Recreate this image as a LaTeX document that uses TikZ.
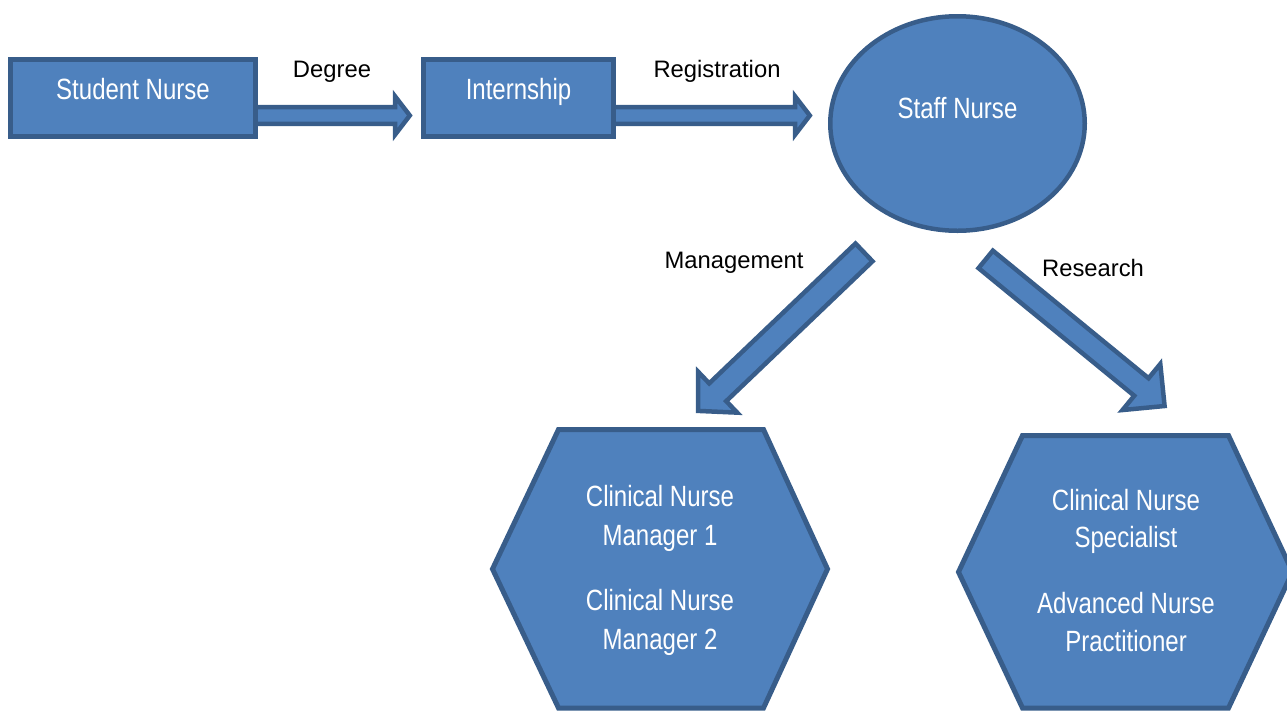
\documentclass[tikz,border=0pt]{standalone}
\usepackage{fontspec}
\setmainfont{Liberation Sans}
\newfontfamily\narrowsans[FakeStretch=0.82]{Liberation Sans}
\usetikzlibrary{calc,shapes.geometric}
\definecolor{boxfill}{RGB}{79,129,189}
\definecolor{boxline}{RGB}{56,93,138}

% block arrow: tail, tip, shaft half-width, head half-width, head length
\newcommand{\flowarrow}[5]{%
  \path ($(#2)!#5!(#1)$) coordinate (hb);
  \draw[arrowbody]
    ($(#1)!#3!90:(#2)$) -- ($(hb)!#3!90:(#2)$) -- ($(hb)!#4!90:(#2)$) --
    (#2) --
    ($(hb)!#4!-90:(#2)$) -- ($(hb)!#3!-90:(#2)$) -- ($(#1)!#3!-90:(#2)$) -- cycle;}

\tikzset{
  shapebox/.style={draw=boxline, fill=boxfill, line width=5pt, line join=miter},
  arrowbody/.style={draw=boxline, fill=boxfill, line width=4.5pt, line join=miter},
  inlabel/.style={text=white, inner sep=0pt, anchor=base,
    font=\narrowsans\fontsize{29.3}{38.5}\selectfont},
  edgelabel/.style={text=black, inner sep=0pt, anchor=base,
    font=\fontsize{23.8}{28}\selectfont},
}

\begin{document}
\begin{tikzpicture}[x=1pt,y=-1pt]
  \useasboundingbox (0,0) rectangle (1287,710);
  \clip (0,0) rectangle (1287,710);

  % arrow end points
  \coordinate (degTail) at (250,115.5);
  \coordinate (degTip)  at (409.8,115.5);
  \coordinate (regTail) at (608,115.5);
  \coordinate (regTip)  at (809.8,115.5);
  \coordinate (mgtTail) at (864,252.4);
  \coordinate (mgtTip)  at (698.2,410.9);
  \coordinate (resTail) at (985.7,259.4);
  \coordinate (resTip)  at (1164.6,406);

  % connectors
  \flowarrow{degTail}{degTip}{8.3pt}{19pt}{14.6pt}
  \flowarrow{regTail}{regTip}{8.3pt}{19pt}{14.6pt}
  \flowarrow{mgtTail}{mgtTip}{12.3pt}{28.2pt}{27pt}
  \flowarrow{resTail}{resTip}{11.3pt}{29.8pt}{30pt}

  % boxes
  \node[shapebox, rectangle, minimum width=245pt, minimum height=77pt, inner sep=0pt]
    (student) at (133,98) {};
  \node[shapebox, rectangle, minimum width=190pt, minimum height=77pt, inner sep=0pt]
    (intern) at (518.5,98) {};
  \node[shapebox, ellipse, line width=4.5pt, minimum width=254.5pt, minimum height=214.5pt, inner sep=0pt]
    (staff) at (957.5,123.5) {};

  % hexagons
  \draw[shapebox] (558.5,429.5) -- (763.5,429.5) -- (827.5,569) -- (763.5,708) -- (558.5,708) -- (492.5,569) -- cycle;
  \draw[shapebox] (1022.5,435.5) -- (1228.5,435.5) -- (1292.5,572) -- (1228.5,708) -- (1022.5,708) -- (958.5,572) -- cycle;

  % texts inside shapes
  \node[inlabel] (studentTxt) at (133,99.3) {Student Nurse};
  \node[inlabel] (internTxt)  at (518.5,99.3) {Internship};
  \node[inlabel] (staffTxt)   at (957.5,118) {Staff Nurse};

  \node[inlabel] (cnmA) at (660,506.7) {Clinical Nurse};
  \node[inlabel] (cnmB) at (660,545)   {Manager 1};
  \node[inlabel] (cnmC) at (660,610)   {Clinical Nurse};
  \node[inlabel] (cnmD) at (660,649.3) {Manager 2};

  \node[inlabel] (cnsA) at (1126,510)   {Clinical Nurse};
  \node[inlabel] (cnsB) at (1126,547.7) {Specialist};
  \node[inlabel] (cnsC) at (1126,613.3) {Advanced Nurse};
  \node[inlabel] (cnsD) at (1126,651.7) {Practitioner};

  % connector labels
  \node[edgelabel] (degLbl) at (332,77.3)  {Degree};
  \node[edgelabel] (regLbl) at (717,77)    {Registration};
  \node[edgelabel] (mgtLbl) at (734,268)   {Management};
  \node[edgelabel] (resLbl) at (1093,276.7) {Research};
\end{tikzpicture}
\end{document}
